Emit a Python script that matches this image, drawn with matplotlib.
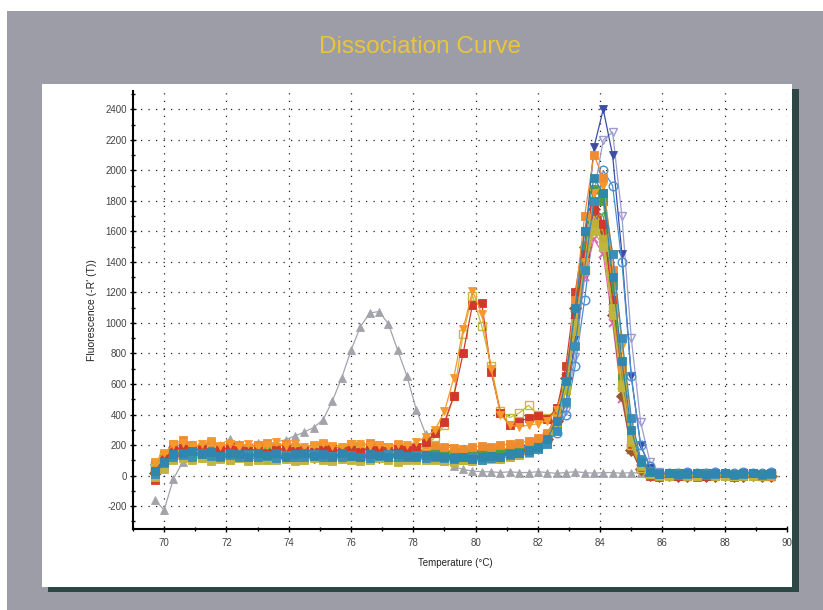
import matplotlib
matplotlib.use("Agg")
import matplotlib.pyplot as plt
from matplotlib.patches import Rectangle
from matplotlib.ticker import MultipleLocator

plt.rcParams["axes.unicode_minus"] = False

# ---------------- data ----------------
temperature = [69.7, 70.0, 70.3, 70.6, 70.9, 71.2, 71.5, 71.8, 72.1, 72.4,
               72.7, 73.0, 73.3, 73.6, 73.9, 74.2, 74.5, 74.8, 75.1, 75.4,
               75.7, 76.0, 76.3, 76.6, 76.9, 77.2, 77.5, 77.8, 78.1, 78.4,
               78.7, 79.0, 79.3, 79.6, 79.9, 80.2, 80.5, 80.8, 81.1, 81.4,
               81.7, 82.0, 82.3, 82.6, 82.9, 83.2, 83.5, 83.8, 84.1, 84.4,
               84.7, 85.0, 85.3, 85.6, 85.9, 86.2, 86.5, 86.8, 87.1, 87.4,
               87.7, 88.0, 88.3, 88.6, 88.9, 89.2, 89.5]

gray_tri = [-160, -225, -20, 90, 150, 170, 180, 200, 240, 210,
            200, 215, 205, 220, 235, 260, 285, 315, 365, 488,
            640, 820, 975, 1065, 1075, 995, 820, 650, 430, 270,
            160, 95, 60, 40, 30, 25, 25, 20, 25, 20,
            20, 25, 20, 15, 20, 25, 20, 15, 20, 20,
            15, 20, 15, 10, 5, 5, 0, 5, 0, 5,
            0, 5, 0, 5, 0, 5, 0]

lavender_v = [20, 90, 150, 170, 160, 150, 165, 155, 150, 160,
              145, 150, 160, 140, 155, 150, 140, 155, 160, 150,
              140, 150, 160, 155, 150, 140, 145, 150, 140, 150,
              155, 150, 145, 140, 145, 150, 140, 150, 160, 170,
              180, 195, 225, 290, 420, 780, 1300, 1850, 2200, 2250,
              1700, 900, 350, 90, 25, 10, 15, 5, 10, 15,
              5, 10, 5, 15, 10, 5, 10]

blue_v = [40, 120, 175, 190, 170, 165, 185, 170, 160, 180,
          150, 165, 175, 150, 180, 160, 150, 170, 175, 160,
          150, 175, 165, 185, 160, 150, 170, 160, 155, 165,
          170, 160, 150, 140, 150, 160, 150, 165, 175, 180,
          190, 205, 240, 310, 480, 900, 1500, 2150, 2400, 2100,
          1450, 650, 200, 50, 20, 15, 20, 10, 15, 20,
          10, 15, 10, 20, 15, 10, 15]

lightblue_o = [70, 130, 180, 170, 185, 175, 160, 180, 170, 185,
               170, 160, 180, 175, 165, 180, 170, 160, 175, 165,
               170, 160, 175, 180, 165, 170, 160, 175, 165, 170,
               160, 165, 155, 150, 160, 165, 155, 165, 170, 180,
               190, 200, 225, 280, 400, 720, 1150, 1650, 2000, 1900,
               1400, 650, 200, 60, 20, 15, 20, 25, 15, 20,
               25, 15, 20, 25, 15, 20, 25]

purple_x = [50, 110, 160, 145, 165, 150, 140, 160, 155, 145,
            160, 150, 140, 155, 145, 160, 135, 150, 145, 155,
            140, 160, 150, 135, 145, 155, 140, 150, 145, 135,
            145, 135, 130, 140, 135, 130, 140, 150, 155, 165,
            180, 205, 250, 370, 640, 1050, 1450, 1700, 1600, 1100,
            550, 180, 50, 10, 0, 5, 0, 10, 5, 0,
            5, 10, 0, 5, 10, 0, 5]

pink_x = [60, 120, 150, 160, 140, 155, 145, 135, 150, 140,
          130, 145, 150, 125, 140, 135, 145, 130, 140, 120,
          135, 140, 125, 110, 130, 120, 135, 125, 130, 140,
          135, 125, 120, 130, 125, 115, 130, 140, 145, 155,
          170, 195, 245, 350, 590, 950, 1300, 1550, 1450, 1000,
          500, 170, 40, 5, -5, 0, 5, -5, 0, 5,
          0, -5, 5, 0, 5, -5, 0]

brown_d = [20, 100, 130, 150, 135, 145, 125, 140, 130, 145,
           135, 125, 140, 130, 120, 140, 130, 125, 135, 130,
           125, 135, 130, 140, 120, 130, 135, 125, 130, 120,
           125, 120, 115, 120, 110, 125, 130, 135, 140, 150,
           165, 190, 240, 360, 640, 1100, 1500, 1750, 1600, 1050,
           520, 170, 40, 5, 0, 5, -5, 0, 5, -5,
           0, 5, -5, 0, 5, 0, -5]

green_open = [40, 110, 160, 150, 170, 155, 145, 165, 155, 150,
              160, 145, 155, 165, 150, 140, 160, 150, 155, 145,
              150, 160, 145, 155, 150, 160, 145, 150, 155, 145,
              150, 140, 135, 145, 140, 145, 150, 155, 165, 175,
              185, 205, 250, 380, 660, 1100, 1500, 1750, 1700, 1200,
              650, 250, 70, 15, 10, 5, 10, 0, 5, 10,
              5, 10, 0, 5, 10, 5, 0]

red_sq = [-30, 60, 150, 140, 160, 135, 150, 140, 125, 150,
          135, 120, 145, 130, 150, 125, 140, 120, 135, 145,
          130, 125, 140, 120, 135, 145, 130, 120, 140, 125,
          115, 130, 120, 110, 125, 120, 130, 140, 150, 160,
          175, 200, 260, 420, 720, 1200, 1600, 1800, 1650, 1150,
          600, 200, 50, 0, -10, 0, -5, 5, -10, 0,
          -5, 5, -10, 0, -5, 5, -5]

green_sq = [10, 100, 160, 180, 155, 170, 150, 175, 160, 150,
            165, 145, 170, 155, 140, 165, 150, 160, 145, 170,
            155, 140, 165, 150, 160, 145, 155, 165, 150, 140,
            150, 160, 145, 135, 150, 140, 155, 160, 170, 175,
            185, 200, 235, 330, 560, 1000, 1500, 1880, 1800, 1250,
            650, 230, 60, 15, 5, 10, 0, 5, 10, 0,
            5, 0, 10, 5, 0, 10, 5]

orange_sq = [80, 140, 210, 230, 200, 185, 220, 190, 210, 200,
             180, 200, 215, 190, 205, 185, 175, 195, 210, 190,
             180, 205, 195, 215, 200, 185, 200, 190, 185, 195,
             200, 190, 180, 175, 185, 195, 185, 200, 205, 215,
             225, 245, 280, 380, 640, 1150, 1700, 2100, 1950, 1350,
             700, 250, 70, 20, 5, 0, 10, -5, 5, 10,
             0, 5, -5, 10, 0, 5, 0]

olive_open80 = [50, 120, 160, 170, 150, 165, 175, 160, 150, 170,
                155, 165, 175, 150, 160, 170, 155, 165, 150, 160,
                170, 155, 165, 150, 160, 175, 165, 155, 170, 200,
                250, 330, 520, 930, 1180, 980, 720, 420, 380, 410,
                460, 400, 380, 420, 600, 950, 1350, 1700, 1600, 1100,
                580, 200, 50, 10, 5, 0, 5, 10, 0, 5,
                10, 5, 0, 5, 10, 0, 5]

red_sq80 = [30, 110, 170, 180, 160, 175, 155, 170, 185, 165,
            160, 175, 150, 165, 180, 160, 170, 155, 165, 175,
            160, 170, 155, 180, 165, 160, 175, 170, 190, 220,
            280, 350, 520, 800, 1120, 1130, 680, 410, 330, 350,
            380, 390, 370, 440, 650, 1050, 1450, 1750, 1650, 1150,
            600, 220, 60, 15, 0, 5, -5, 0, 5, 0,
            -5, 0, 5, 0, -5, 0, 5]

orange_v80 = [90, 150, 200, 215, 190, 205, 225, 195, 210, 190,
              205, 185, 200, 220, 195, 210, 190, 200, 215, 195,
              185, 205, 210, 195, 200, 190, 210, 200, 220, 250,
              300, 420, 640, 960, 1210, 1060, 700, 400, 330, 320,
              330, 340, 360, 430, 620, 980, 1400, 1850, 1900, 1450,
              850, 350, 100, 30, 10, 5, 10, 15, 5, 10,
              15, 5, 10, 15, 5, 10, 15]

olive_sq = [0, 70, 110, 125, 140, 115, 130, 120, 105, 125,
            110, 130, 100, 120, 135, 110, 100, 125, 115, 105,
            120, 130, 110, 100, 115, 125, 105, 110, 120, 100,
            110, 100, 95, 105, 100, 115, 120, 110, 125, 135,
            150, 175, 215, 320, 560, 950, 1350, 1650, 1550, 1100,
            600, 220, 60, 10, 0, -5, 5, 0, -5, 5,
            0, -5, 5, 0, -5, 0, 5]

olive2_sq = [-10, 40, 100, 115, 105, 120, 95, 110, 100, 115,
             95, 105, 120, 100, 110, 95, 105, 115, 100, 95,
             110, 100, 95, 105, 115, 100, 90, 105, 100, 110,
             100, 95, 90, 100, 95, 105, 110, 120, 130, 140,
             160, 185, 230, 340, 600, 1000, 1350, 1600, 1500, 1050,
             580, 230, 70, 20, 5, 0, 5, 10, 0, 5,
             10, 0, 5, 10, 0, 5, 10]

teal2_sq = [10, 80, 120, 135, 125, 145, 130, 120, 135, 125,
            140, 120, 130, 115, 135, 125, 120, 140, 125, 130,
            120, 135, 125, 115, 130, 140, 120, 125, 135, 115,
            120, 115, 110, 120, 115, 105, 115, 125, 135, 145,
            155, 175, 210, 290, 480, 850, 1350, 1800, 1850, 1450,
            900, 380, 110, 30, 10, 15, 5, 10, 15, 5,
            10, 15, 5, 10, 15, 5, 10]

teal_sq = [30, 90, 140, 150, 160, 140, 155, 130, 150, 140,
           125, 150, 135, 145, 120, 140, 150, 130, 140, 125,
           145, 130, 120, 140, 135, 125, 140, 130, 120, 135,
           130, 120, 115, 125, 110, 120, 130, 125, 140, 150,
           165, 190, 240, 360, 620, 1100, 1600, 1950, 1850, 1300,
           750, 300, 90, 25, 10, 15, 10, 20, 15, 10,
           15, 20, 10, 15, 20, 10, 15]

x_ticks = [70, 72, 74, 76, 78, 80, 82, 84, 86, 88, 90]
y_ticks = [-200, 0, 200, 400, 600, 800, 1000, 1200, 1400, 1600, 1800,
           2000, 2200, 2400]

# ---------------- styles (drawing order: first = bottom) ----------------
series = [
    (gray_tri,     "#a3a3ab", "^", True),
    (lavender_v,   "#9c9cd2", "v", False),
    (blue_v,       "#3a4ea6", "v", True),
    (lightblue_o,  "#4a8fd0", "o", False),
    (purple_x,     "#8650a8", "x", True),
    (pink_x,       "#e068b0", "x", True),
    (brown_d,      "#9a5a30", "D", True),
    (green_open,   "#5aa84a", "^", False),
    (red_sq,       "#d5402c", "s", True),
    (green_sq,     "#4f9e45", "s", True),
    (orange_sq,    "#f08c30", "s", True),
    (olive_open80, "#c9b83c", "s", False),
    (red_sq80,     "#d0382a", "s", True),
    (orange_v80,   "#f7982c", "v", True),
    (olive_sq,     "#bdb035", "s", True),
    (olive2_sq,    "#c2b440", "s", True),
    (teal2_sq,     "#3a8fb8", "s", True),
    (teal_sq,      "#2f87ad", "s", True),
]

W, H = 823, 610
fig = plt.figure(figsize=(W / 100, H / 100), dpi=100)
fig.patch.set_facecolor("white")

def fx(px):
    return px / W

def fy(py):
    return 1 - py / H

# background panels
fig.add_artist(Rectangle((fx(7), 0), 1 - fx(7), fy(11), transform=fig.transFigure,
                         facecolor="#9d9da7", edgecolor="none", zorder=-3))
fig.add_artist(Rectangle((fx(48), fy(592)), (799 - 48) / W, (592 - 89) / H,
                         transform=fig.transFigure, facecolor="#2e4644",
                         edgecolor="none", zorder=-2))
fig.add_artist(Rectangle((fx(42), fy(587)), (792 - 42) / W, (587 - 84) / H,
                         transform=fig.transFigure, facecolor="white",
                         edgecolor="none", zorder=-1))

ax = fig.add_axes([fx(133), fy(529), (787 - 133) / W, (529 - 91) / H])
ax.patch.set_facecolor("white")

for vals, col, mk, filled in series:
    kw = dict(color=col, marker=mk, markersize=6.2, linewidth=0.9,
              markeredgecolor=col)
    if mk == "x":
        kw["markeredgewidth"] = 1.4
        kw["markersize"] = 5.5
    elif filled:
        kw["markerfacecolor"] = col
        kw["markeredgewidth"] = 0.6
    else:
        kw["markerfacecolor"] = "none"
        kw["markeredgewidth"] = 1.0
    ax.plot(temperature, vals, **kw)

ax.set_xlim(69.0, 90.0)
ax.set_ylim(-350, 2520)
ax.set_xticks(x_ticks)
ax.set_yticks(y_ticks)
ax.xaxis.set_minor_locator(MultipleLocator(1))
ax.yaxis.set_minor_locator(MultipleLocator(100))

for s in ("top", "right"):
    ax.spines[s].set_visible(False)
for s in ("left", "bottom"):
    ax.spines[s].set_linewidth(1.5)
    ax.spines[s].set_color("black")

ax.tick_params(which="major", direction="inout", length=5, width=1,
               color="black", labelcolor="#444444", labelsize=7, pad=2,
               labelfontfamily="Liberation Sans")
ax.tick_params(axis="x", which="major", pad=4)
ax.tick_params(which="minor", direction="inout", length=3.5, width=1,
               color="black")

ax.set_axisbelow(True)
ax.grid(True, which="major", linestyle=(0, (1, 5)), color="#222222",
        linewidth=0.9)

ax.text(-0.063, 0.5, "Fluorescence (-R' (T))", rotation=90, ha="center",
        va="center", transform=ax.transAxes, fontsize=7.5, color="#222222",
        family="Liberation Sans")
fig.text(fx(455), fy(563), "Temperature (°C)", ha="center", va="center",
         fontsize=7, color="#222222", family="Liberation Sans")
fig.text(fx(420), fy(47), "Dissociation Curve", ha="center", va="center",
         fontsize=17.5, color="#e8c53a", family="Liberation Sans")

fig.savefig("out.png", dpi=100)
